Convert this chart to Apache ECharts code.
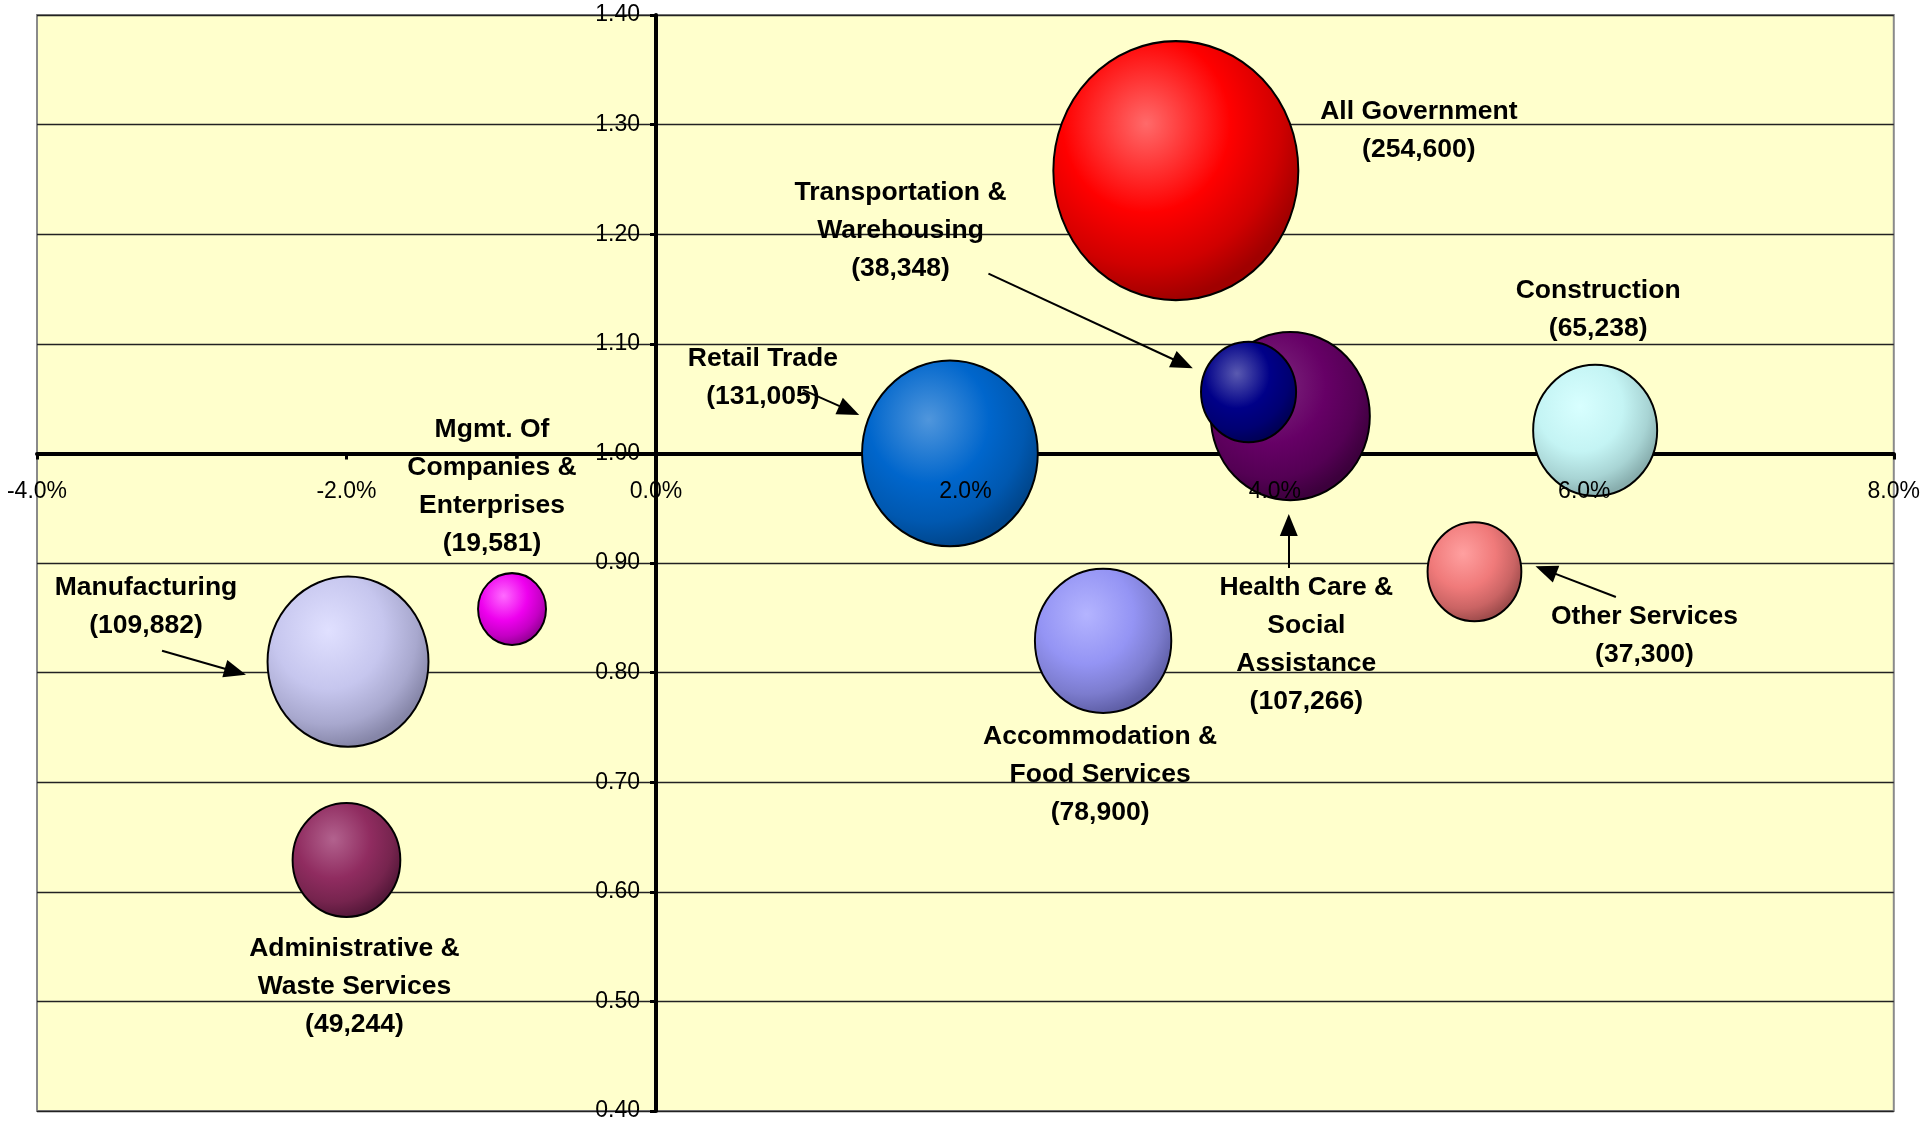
<!DOCTYPE html>
<html>
<head>
<meta charset="utf-8">
<script src="https://cdn.jsdelivr.net/npm/echarts@6/dist/echarts.min.js"></script>
<style>
html,body{margin:0;padding:0;background:#fff;}
#chart{width:1923px;height:1123px;}
</style>
</head>
<body>
<div id="chart"></div>
<script>
// ---- data ----
const sectors = [
  'All Government',
  'Health Care &\nSocial\nAssistance',
  'Transportation &\nWarehousing',
  'Retail Trade',
  'Construction',
  'Other Services',
  'Accommodation &\nFood Services',
  'Manufacturing',
  'Mgmt. Of\nCompanies &\nEnterprises',
  'Administrative &\nWaste Services'
];
const growthPct = [3.36, 4.10, 3.83, 1.90, 6.07, 5.29, 2.89, -1.99, -0.93, -2.00];
const locationQuotient = [1.258, 1.034, 1.056, 1.000, 1.021, 0.892, 0.829, 0.810, 0.858, 0.629];
const employment = [254600, 107266, 38348, 131005, 65238, 37300, 78900, 109882, 19581, 49244];

const xTicks = [-4, -2, 0, 2, 4, 6, 8];
const yTicks = [0.4, 0.5, 0.6, 0.7, 0.8, 0.9, 1.0, 1.1, 1.2, 1.3, 1.4];

// annotation arrows [from, to] in data coordinates
const arrowFrom = [[0.95, 1.058], [2.149, 1.164], [-3.192, 0.820], [4.090, 0.8955], [6.204, 0.869]];
const arrowTo   = [[1.249, 1.0392], [3.405, 1.0818], [-2.718, 0.8008], [4.090, 0.9347], [5.751, 0.8935]];

// ---- styles ----
const palette = [
  ['#FF6A6A', '#FF0000', '#D00000', '#A00000'],
  ['#7E2A7E', '#660066', '#540054', '#3C003C'],
  ['#5A5AB0', '#000088', '#000072', '#000055'],
  ['#5096DC', '#0066CC', '#0058B0', '#00468C'],
  ['#D8FFFF', '#C4F4F4', '#A8D4D4', '#88AEAE'],
  ['#FFA0A0', '#F07A7A', '#CA6464', '#9E4C4C'],
  ['#B4B4FF', '#9494F4', '#7C7CCE', '#6060A8'],
  ['#E0E0FF', '#C6C6EE', '#A8A8CE', '#8686A8'],
  ['#FF6AFF', '#EE00EE', '#C400C4', '#960096'],
  ['#B2628E', '#902C60', '#76244E', '#56183A']
];
const labelOffsets = [
  [243, -40], [16, 229], [-348, -161], [-187, -76], [3, -121],
  [170, 64], [-3, 134], [-202, -55], [-20, -122], [8, 127]
];

const FONT = "'Liberation Sans', Arial, sans-serif";
const maxW = 245, maxH = 259, maxVal = 254600;

const bubbleData = sectors.map((name, i) => {
  const c = palette[i];
  return {
    name: name,
    value: [growthPct[i], locationQuotient[i], employment[i]],
    itemStyle: {
      color: new echarts.graphic.RadialGradient(0.38, 0.32, 0.68, [
        {offset: 0, color: c[0]},
        {offset: 0.5, color: c[1]},
        {offset: 0.8, color: c[2]},
        {offset: 1, color: c[3]}
      ]),
      borderColor: '#000',
      borderWidth: 2,
      opacity: 1
    },
    label: {
      show: true,
      position: 'inside',
      offset: labelOffsets[i],
      formatter: name + '\n(' + employment[i].toLocaleString('en-US') + ')'
    }
  };
});

const arrowData = arrowFrom.map((f, i) => [{coord: f}, {coord: arrowTo[i]}]);

const chart = echarts.init(document.getElementById('chart'), null, {renderer: 'canvas'});

const gridLeft = 37, gridRight = 29, gridTop = 15, gridBottom = 12;
const gridW = 1923 - gridLeft - gridRight;
const gridH = 1123 - gridTop - gridBottom;
const xMin = xTicks[0], xMax = xTicks[xTicks.length - 1];
const yMin = yTicks[0], yMax = yTicks[yTicks.length - 1];
// put the axes where they cross (x at 0%, y at 1.00)
const yAxisOffset = -gridW * (0 - xMin) / (xMax - xMin);
const xAxisOffset = -gridH * (1.0 - yMin) / (yMax - yMin);

const xLabelStyle = {
  margin: 27, color: '#000', fontSize: 23, fontFamily: FONT,
  formatter: v => v.toFixed(1) + '%'
};

chart.setOption({
  animation: false,
  backgroundColor: '#ffffff',
  grid: {
    left: gridLeft, right: gridRight, top: gridTop, bottom: gridBottom,
    show: true, backgroundColor: '#FFFFCC', borderColor: '#8A8A8A', borderWidth: 2
  },
  xAxis: [{
    // axis line + ticks (behind bubbles)
    type: 'value', min: xMin, max: xMax, interval: 2,
    position: 'bottom', offset: xAxisOffset, z: 0,
    axisLine: {show: true, onZero: false, lineStyle: {color: '#000', width: 4}},
    axisTick: {show: true, length: 6, lineStyle: {color: '#000', width: 3}},
    axisLabel: {show: false},
    splitLine: {show: false}
  }, {
    // tick labels (drawn over bubbles)
    type: 'value', min: xMin, max: xMax, interval: 2,
    position: 'bottom', offset: xAxisOffset, z: 20,
    axisLine: {show: false, onZero: false},
    axisTick: {show: false},
    axisLabel: xLabelStyle,
    splitLine: {show: false}
  }],
  yAxis: {
    type: 'value', min: yMin, max: yMax, interval: 0.1,
    position: 'left', offset: yAxisOffset,
    axisLine: {show: true, onZero: false, lineStyle: {color: '#000', width: 4}},
    axisTick: {show: true, length: 6, lineStyle: {color: '#000', width: 3}},
    axisLabel: {
      margin: 16, color: '#000', fontSize: 23, fontFamily: FONT,
      formatter: v => v.toFixed(2)
    },
    splitLine: {show: true, lineStyle: {color: '#222', width: 1.3}}
  },
  series: [{
    type: 'scatter',
    xAxisIndex: 0,
    data: bubbleData,
    symbol: 'circle',
    symbolSize: v => {
      const s = Math.sqrt(v[2] / maxVal);
      return [maxW * s, maxH * s];
    },
    itemStyle: {opacity: 1},
    label: {
      color: '#000', fontSize: 26.5, fontWeight: 'bold', fontFamily: FONT,
      lineHeight: 38, align: 'center', verticalAlign: 'middle', opacity: 1
    },
    emphasis: {disabled: true},
    z: 3,
    markLine: {
      silent: true,
      symbol: ['none', 'triangle'],
      symbolSize: [18, 22],
      label: {show: false},
      lineStyle: {color: '#000', width: 2, type: 'solid', opacity: 1},
      itemStyle: {color: '#000'},
      emphasis: {disabled: true},
      data: arrowData
    }
  }]
});
</script>
</body>
</html>
